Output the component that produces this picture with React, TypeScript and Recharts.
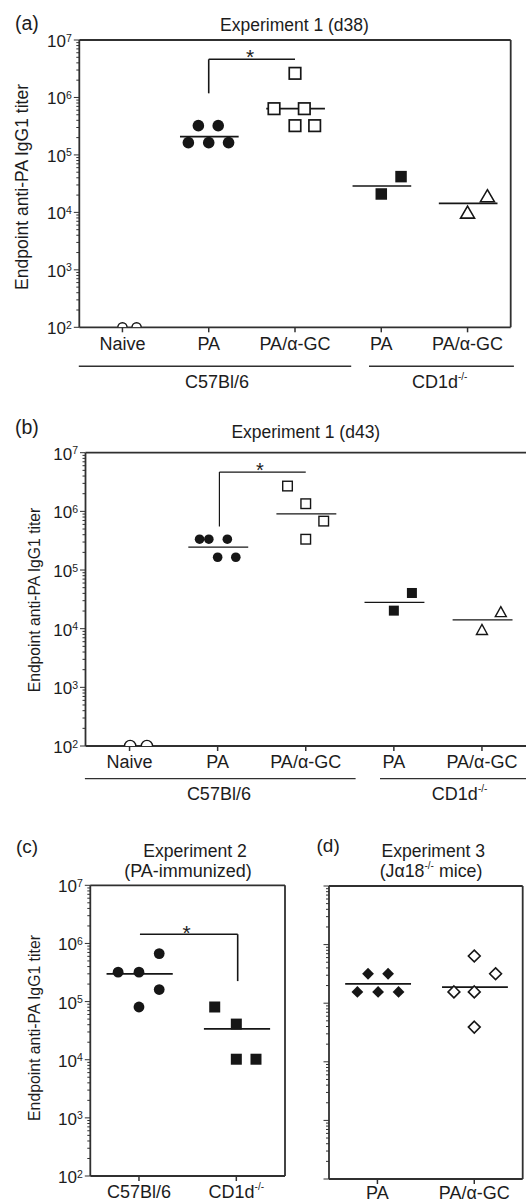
import React from 'react';
import { ScatterChart, Scatter, XAxis, YAxis, ReferenceLine } from 'recharts';

const FONT = '"Liberation Sans", Arial, Helvetica, sans-serif';
const INK = '#161616';
const AXIS = '#303030';
const TXT = '#1c1c1c';

// ---------- shared axis values ----------
const yMajor = [1e2, 1e3, 1e4, 1e5, 1e6, 1e7];
const yMinorMult = [2, 3, 4, 5, 6, 7, 8, 9];
const yTicks: number[] = [];
yMajor.forEach((m, i) => {
  yTicks.push(m);
  if (i < yMajor.length - 1) yMinorMult.forEach((k) => yTicks.push(k * m));
});
const Y_DOMAIN = [1e2, 1e7];

// ---------- panel (a) : Experiment 1 (d38) ----------
const aCats = ['Naive', 'PA', 'PA/α-GC', 'PA', 'PA/α-GC'];
const aNaive = [{ x: 0, y: 100 }, { x: 0.164, y: 100 }];
const aPA = [
  { x: 0.88, y: 3.23e5 }, { x: 1.11, y: 3.23e5 },
  { x: 0.764, y: 1.635e5 }, { x: 1.0, y: 1.635e5 }, { x: 1.23, y: 1.635e5 },
];
const aPAaGC = [
  { x: 2.0, y: 2.63e6 },
  { x: 1.757, y: 6.38e5 }, { x: 2.108, y: 6.38e5 },
  { x: 2.0, y: 3.23e5 }, { x: 2.228, y: 3.23e5 },
];
const aKoPA = [{ x: 3.229, y: 4.19e4 }, { x: 3.0, y: 2.09e4 }];
const aKoPAaGC = [{ x: 4.23, y: 1.95e4 }, { x: 4.0, y: 1.01e4 }];
const aMeans = [{ x: 1, y: 2.08e5 }, { x: 2, y: 6.38e5 }, { x: 3, y: 2.88e4 }, { x: 4, y: 1.44e4 }];
const aBracket = [{ x: 1, y: 1.18e6 }, { x: 1, y: 4.61e6 }, { x: 2, y: 4.61e6 }];
const aStar = [{ x: 1.48, y: 6.18e6 }];

// ---------- panel (b) : Experiment 1 (d43) ----------
const bCats = ['Naive', 'PA', 'PA/α-GC', 'PA', 'PA/α-GC'];
const bNaive = [{ x: 0.007, y: 100 }, { x: 0.197, y: 100 }];
const bPA = [
  { x: 0.795, y: 3.35e5 }, { x: 0.9, y: 3.35e5 }, { x: 1.11, y: 3.35e5 },
  { x: 1.0, y: 1.65e5 }, { x: 1.206, y: 1.65e5 },
];
const bPAaGC = [
  { x: 1.793, y: 2.7e6 }, { x: 2.0, y: 1.35e6 }, { x: 2.204, y: 6.82e5 }, { x: 2.0, y: 3.35e5 },
];
const bKoPA = [{ x: 3.205, y: 4.06e4 }, { x: 3.0, y: 2.03e4 }];
const bKoPAaGC = [{ x: 4.214, y: 1.95e4 }, { x: 4.0, y: 9.7e3 }];
const bMeans = [{ x: 1, y: 2.45e5 }, { x: 2, y: 9.08e5 }, { x: 3, y: 2.81e4 }, { x: 4, y: 1.41e4 }];
const bBracket = [{ x: 1.02, y: 5.52e5 }, { x: 1.02, y: 4.68e6 }, { x: 2, y: 4.68e6 }];
const bStar = [{ x: 1.48, y: 6.08e6 }];

// ---------- panel (c) : Experiment 2 ----------
const cCats = ['C57Bl/6', 'CD1d^-/-'];
const cWT = [
  { x: -0.214, y: 3.21e5 }, { x: 0.0, y: 3.21e5 }, { x: 0.208, y: 6.69e5 },
  { x: 0.208, y: 1.61e5 }, { x: 0.0, y: 8.07e4 },
];
const cKO = [
  { x: 0.778, y: 8.07e4 }, { x: 1.0, y: 4.1e4 }, { x: 1.0, y: 1.02e4 }, { x: 1.202, y: 1.02e4 },
];
const cMeans = [{ x: 0, y: 3.0e5 }, { x: 1, y: 3.4e4 }];
const cBracket = [{ x: 0.01, y: 1.44e6 }, { x: 1.014, y: 1.44e6 }, { x: 1.014, y: 2.25e5 }];
const cStar = [{ x: 0.49, y: 1.82e6 }];

// ---------- panel (d) : Experiment 3 ----------
const dCats = ['PA', 'PA/α-GC'];
const dPA = [
  { x: -0.097, y: 3.18e5 }, { x: 0.11, y: 3.18e5 },
  { x: -0.207, y: 1.56e5 }, { x: 0.007, y: 1.56e5 }, { x: 0.218, y: 1.56e5 },
];
const dPAaGC = [
  { x: 1.0, y: 6.39e5 }, { x: 1.22, y: 3.18e5 }, { x: 0.79, y: 1.56e5 },
  { x: 1.0, y: 1.56e5 }, { x: 1.0, y: 3.91e4 },
];
const dMeans = [{ x: 0, y: 2.14e5 }, { x: 1, y: 1.88e5 }];

// mean-line extent around each group centre (category units)
const MEAN_L = -0.333;
const MEAN_R = 0.347;

// ---------- marker shapes ----------
const filledCircle = (r: number) => (p: any) => <circle cx={p.cx} cy={p.cy} r={r} fill={INK} />;
const halfCircle = (r: number) => (p: any) => (
  <path d={`M${p.cx - r},${p.cy} A${r},${r} 0 0 1 ${p.cx + r},${p.cy}`} fill="#fff" stroke={INK} strokeWidth={1.4} />
);
const openSquare = (s: number, sw: number) => (p: any) => (
  <rect x={p.cx - s / 2} y={p.cy - s / 2} width={s} height={s} fill="#fff" stroke={INK} strokeWidth={sw} />
);
const filledSquare = (s: number) => (p: any) => (
  <rect x={p.cx - s / 2} y={p.cy - s / 2} width={s} height={s} fill={INK} />
);
const openTriangle = (w: number, h: number, sw: number) => (p: any) => (
  <path
    d={`M${p.cx},${p.cy - h / 2} L${p.cx + w / 2},${p.cy + h / 2} L${p.cx - w / 2},${p.cy + h / 2} Z`}
    fill="#fff" stroke={INK} strokeWidth={sw} strokeLinejoin="miter"
  />
);
const diamond = (hd: number, fill: string, sw: number) => (p: any) => (
  <path
    d={`M${p.cx},${p.cy - hd} L${p.cx + hd},${p.cy} L${p.cx},${p.cy + hd} L${p.cx - hd},${p.cy} Z`}
    fill={fill} stroke={INK} strokeWidth={sw}
  />
);
const starShape = (size: number) => (p: any) => (
  <text x={p.cx} y={p.cy + size * 0.58} textAnchor="middle" fontSize={size} fontFamily={FONT} fill={TXT}>*</text>
);
const noShape = () => <g />;

// ---------- ticks ----------
const LogTick = (props: any) => {
  const { x, y, payload, showLabels } = props;
  const v = payload.value;
  const lg = Math.log10(v);
  const exp = Math.round(lg);
  const major = Math.abs(lg - exp) < 1e-6;
  return (
    <g>
      <line x1={x} x2={x - (major ? 5.5 : 3)} y1={y} y2={y} stroke={AXIS} strokeWidth={1} />
      {major && showLabels && (
        <text x={x - 7.5} y={y + 7} textAnchor="end" fontSize={17} fontFamily={FONT} fill={TXT}>
          <tspan>10</tspan>
          <tspan dy={-5.5} fontSize={10.5}>{exp}</tspan>
        </text>
      )}
    </g>
  );
};

const CatTick = (props: any) => {
  const { x, y, payload, labels, dy, fontSize } = props;
  const raw: string = labels[Math.round(payload.value)] ?? '';
  const [main, sup] = raw.split('^');
  return (
    <g>
      <line x1={x} x2={x} y1={y} y2={y + 5} stroke={AXIS} strokeWidth={1.5} />
      <text x={x} y={y + dy} textAnchor="middle" fontSize={fontSize} fontFamily={FONT} fill={TXT}>
        <tspan>{main}</tspan>
        {sup && <tspan dy={-8} fontSize={10}>{sup}</tspan>}
      </text>
    </g>
  );
};

const meanSeg = (m: { x: number; y: number }) => [
  { x: m.x + MEAN_L, y: m.y },
  { x: m.x + MEAN_R, y: m.y },
];

type Series = { data: { x: number; y: number }[]; shape: any };

type PanelProps = {
  left: number; top: number; width: number; height: number;
  margin: { top: number; right: number; bottom: number; left: number };
  yAxisWidth: number; xAxisHeight: number;
  xDomain: number[]; cats: string[]; labelDy: number; labelSize: number;
  showYLabels: boolean; frameRight: number | null;
  series: Series[]; means: { x: number; y: number }[]; meanWidth: number;
  bracket?: { x: number; y: number }[]; bracketWidth?: number;
  star?: { x: number; y: number }[]; starSize?: number;
};

const Panel = (p: PanelProps) => {
  const tickIdx = p.cats.map((_, i) => i);
  return (
    <div style={{ position: 'absolute', left: p.left, top: p.top }}>
      <ScatterChart width={p.width} height={p.height} margin={p.margin}>
        <XAxis
          type="number" dataKey="x" domain={p.xDomain} ticks={tickIdx} interval={0}
          allowDataOverflow height={p.xAxisHeight} tickSize={0} tickMargin={0} tickLine={false}
          axisLine={{ stroke: AXIS, strokeWidth: 1.8 }}
          tick={<CatTick labels={p.cats} dy={p.labelDy} fontSize={p.labelSize} />}
        />
        <YAxis
          type="number" dataKey="y" scale="log" domain={Y_DOMAIN} allowDataOverflow
          ticks={yTicks} interval={0} width={p.yAxisWidth} tickSize={0} tickMargin={0} tickLine={false}
          axisLine={{ stroke: AXIS, strokeWidth: 1.8 }}
          tick={<LogTick showLabels={p.showYLabels} />}
        />
        <ReferenceLine y={1e7} stroke={AXIS} strokeWidth={1.8} ifOverflow="visible" />
        {p.frameRight !== null && (
          <ReferenceLine x={p.frameRight} stroke={AXIS} strokeWidth={1.8} ifOverflow="visible" />
        )}
        {p.bracket && (
          <ReferenceLine segment={[p.bracket[0], p.bracket[1]]} stroke={INK} strokeWidth={p.bracketWidth} ifOverflow="visible" />
        )}
        {p.bracket && (
          <ReferenceLine segment={[p.bracket[1], p.bracket[2]]} stroke={INK} strokeWidth={p.bracketWidth} ifOverflow="visible" />
        )}
        {p.means.map((m, i) => (
          <Scatter
            key={'m' + i} data={meanSeg(m)} line={{ stroke: INK, strokeWidth: p.meanWidth }}
            lineType="joint" shape={noShape} isAnimationActive={false}
          />
        ))}
        {p.series.map((s, i) => (
          <Scatter key={'s' + i} data={s.data} shape={s.shape} isAnimationActive={false} />
        ))}
        {p.star && <Scatter data={p.star} shape={starShape(p.starSize || 20)} isAnimationActive={false} />}
      </ScatterChart>
    </div>
  );
};

const Sup = ({ children }: { children: React.ReactNode }) => (
  <tspan dy={-8} fontSize={10}>{children}</tspan>
);

const Overlay = () => (
  <svg width={526} height={1203} style={{ position: 'absolute', left: 0, top: 0, pointerEvents: 'none' }}
    fontFamily={FONT} fill={TXT}>
    {/* panel letters & titles */}
    <text x={15} y={29.5} fontSize={19.5}>(a)</text>
    <text x={294.5} y={31} fontSize={17.5} textAnchor="middle">Experiment 1 (d38)</text>
    <text x={15} y={434} fontSize={19.5}>(b)</text>
    <text x={305.8} y={438} fontSize={17.5} textAnchor="middle">Experiment 1 (d43)</text>
    <text x={16} y={852.5} fontSize={19}>(c)</text>
    <text x={195} y={856.5} fontSize={17.6} textAnchor="middle">Experiment 2</text>
    <text x={188} y={877} fontSize={18} textAnchor="middle">(PA-immunized)</text>
    <text x={316.5} y={852} fontSize={19}>(d)</text>
    <text x={433.3} y={856.5} fontSize={17.6} textAnchor="middle">Experiment 3</text>
    <text x={431} y={877} fontSize={17.8} textAnchor="middle">
      <tspan>(Jα18</tspan><tspan dy={-8} fontSize={10}>-/-</tspan><tspan dy={8}> mice)</tspan>
    </text>

    {/* y-axis titles */}
    <text transform="translate(28,187) rotate(-90)" fontSize={17.5} textAnchor="middle">Endpoint anti-PA IgG1 titer</text>
    <text transform="translate(40,600) rotate(-90)" fontSize={15.7} textAnchor="middle">Endpoint anti-PA IgG1 titer</text>
    <text transform="translate(40,1028) rotate(-90)" fontSize={15.8} textAnchor="middle">Endpoint anti-PA IgG1 titer</text>

    {/* strain groupings (a) */}
    <line x1={78.8} x2={351.2} y1={366.3} y2={366.3} stroke={AXIS} strokeWidth={1.4} />
    <line x1={369} x2={513.9} y1={366.3} y2={366.3} stroke={AXIS} strokeWidth={1.4} />
    <text x={217} y={387.5} fontSize={18} textAnchor="middle">C57Bl/6</text>
    <text x={439.7} y={387.5} fontSize={18} textAnchor="middle"><tspan>CD1d</tspan><Sup>-/-</Sup></text>

    {/* strain groupings (b) */}
    <line x1={84.9} x2={355.6} y1={778.6} y2={778.6} stroke={AXIS} strokeWidth={1.4} />
    <line x1={380} x2={530} y1={778.6} y2={778.6} stroke={AXIS} strokeWidth={1.4} />
    <text x={218.9} y={800} fontSize={18} textAnchor="middle">C57Bl/6</text>
    <text x={459.6} y={800} fontSize={18} textAnchor="middle"><tspan>CD1d</tspan><Sup>-/-</Sup></text>
  </svg>
);

export default function App() {
  return (
    <div style={{ position: 'absolute', left: 0, top: 0, width: 526, height: 1203, overflow: 'hidden', background: '#fff' }}>
      {/* (a) */}
      <Panel
        left={0} top={0} width={526} height={400}
        margin={{ top: 40, right: 15.3, bottom: 0, left: 0 }}
        yAxisWidth={79.3} xAxisHeight={72.7}
        xDomain={[-0.5, 4.5]} cats={aCats} labelDy={23} labelSize={18}
        showYLabels frameRight={4.5}
        series={[
          { data: aNaive, shape: halfCircle(4.6) },
          { data: aPA, shape: filledCircle(5.8) },
          { data: aPAaGC, shape: openSquare(11.5, 1.7) },
          { data: aKoPA, shape: filledSquare(11.5) },
          { data: aKoPAaGC, shape: openTriangle(14, 12, 1.6) },
        ]}
        means={aMeans} meanWidth={1.7}
        bracket={aBracket} bracketWidth={1.6}
        star={aStar} starSize={21}
      />
      {/* (b) */}
      <Panel
        left={0} top={400} width={540} height={400}
        margin={{ top: 52.7, right: 14, bottom: 0, left: 0 }}
        yAxisWidth={85.5} xAxisHeight={54}
        xDomain={[-0.5, 4.5]} cats={bCats} labelDy={21.6} labelSize={18}
        showYLabels frameRight={null}
        series={[
          { data: bNaive, shape: halfCircle(5.6) },
          { data: bPA, shape: filledCircle(4.8) },
          { data: bPAaGC, shape: openSquare(9.6, 1.4) },
          { data: bKoPA, shape: filledSquare(10) },
          { data: bKoPAaGC, shape: openTriangle(11, 10, 1.4) },
        ]}
        means={bMeans} meanWidth={1.3}
        bracket={bBracket} bracketWidth={1.2}
        star={bStar} starSize={20}
      />
      {/* (c) */}
      <Panel
        left={0} top={800} width={300} height={403}
        margin={{ top: 85.3, right: 15, bottom: 0, left: 0 }}
        yAxisWidth={90.3} xAxisHeight={27}
        xDomain={[-0.5, 1.5]} cats={cCats} labelDy={22} labelSize={18}
        showYLabels frameRight={1.5}
        series={[
          { data: cWT, shape: filledCircle(5.4) },
          { data: cKO, shape: filledSquare(11) },
        ]}
        means={cMeans} meanWidth={1.7}
        bracket={cBracket} bracketWidth={1.6}
        star={cStar} starSize={21}
      />
      {/* (d) */}
      <Panel
        left={300} top={800} width={226} height={403}
        margin={{ top: 86, right: 3.3, bottom: 0, left: 0 }}
        yAxisWidth={29} xAxisHeight={24}
        xDomain={[-0.5, 1.5]} cats={dCats} labelDy={19.5} labelSize={18}
        showYLabels={false} frameRight={1.5}
        series={[
          { data: dPA, shape: diamond(5.9, INK, 0) },
          { data: dPAaGC, shape: diamond(5.9, '#fff', 1.6) },
        ]}
        means={dMeans} meanWidth={1.7}
      />
      <Overlay />
    </div>
  );
}
